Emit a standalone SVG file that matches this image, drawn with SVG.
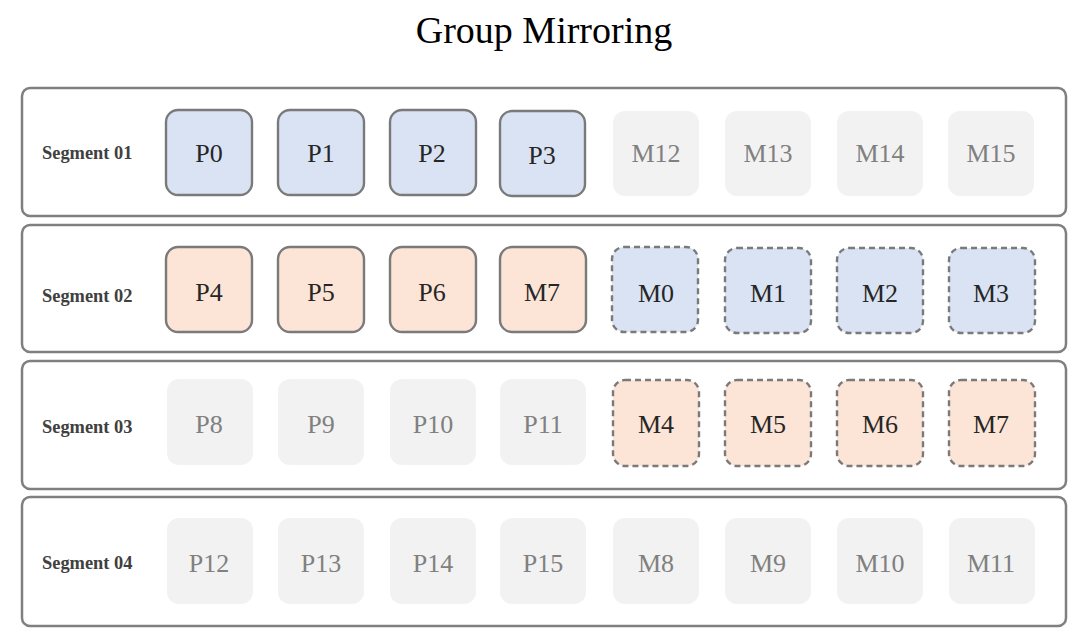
<svg xmlns="http://www.w3.org/2000/svg" width="1080" height="641" viewBox="0 0 1080 641">
<style>
.seg{fill:#fff;stroke:#7f7f7f;stroke-width:2.5}
.sl{font-family:"Liberation Serif",serif;font-weight:bold;font-size:18.4px;fill:#404040;dominant-baseline:central}
.n{stroke:#7a7a7a;stroke-width:2.4}
.d{stroke-dasharray:6 4}
.b{fill:#dae3f3}
.o{fill:#fce4d6}
.f{fill:#f2f2f2;stroke:none}
.t{font-family:"Liberation Serif",serif;font-size:26px;fill:#262626;text-anchor:middle;dominant-baseline:central}
.ft{fill:#808080}
</style>
<rect width="1080" height="641" fill="#fff"/>
<text x="544" y="30" font-family="Liberation Serif,serif" font-size="38" text-anchor="middle" dominant-baseline="central" fill="#000">Group Mirroring</text>
<g id="seg1"><rect class="seg" x="22" y="88" width="1044" height="128" rx="8"/><text class="sl" x="42" y="153">Segment 01</text></g>
<g id="seg2"><rect class="seg" x="22" y="225" width="1044" height="127" rx="8"/><text class="sl" x="42" y="296">Segment 02</text></g>
<g id="seg3"><rect class="seg" x="22" y="361" width="1044" height="128" rx="8"/><text class="sl" x="42" y="427">Segment 03</text></g>
<g id="seg4"><rect class="seg" x="22" y="497" width="1044" height="129" rx="8"/><text class="sl" x="42" y="563">Segment 04</text></g>
<g id="P0"><rect class="n b" x="166" y="110" width="86" height="85" rx="12"/><text class="t" x="209" y="153">P0</text></g>
<g id="P1"><rect class="n b" x="278" y="110" width="86" height="85" rx="12"/><text class="t" x="321" y="153">P1</text></g>
<g id="P2"><rect class="n b" x="390" y="110" width="86" height="85" rx="12"/><text class="t" x="432" y="153">P2</text></g>
<g id="P3"><rect class="n b" x="500" y="111" width="85" height="85" rx="12"/><text class="t" x="542" y="155">P3</text></g>
<g id="M12"><rect class="f" x="613" y="111" width="86" height="85" rx="12"/><text class="t ft" x="656" y="153">M12</text></g>
<g id="M13"><rect class="f" x="725" y="111" width="86" height="85" rx="12"/><text class="t ft" x="768" y="153">M13</text></g>
<g id="M14"><rect class="f" x="837" y="111" width="86" height="85" rx="12"/><text class="t ft" x="880" y="153">M14</text></g>
<g id="M15"><rect class="f" x="948" y="111" width="86" height="85" rx="12"/><text class="t ft" x="991" y="153">M15</text></g>
<g id="P4"><rect class="n o" x="166" y="247" width="86" height="85" rx="12"/><text class="t" x="209" y="292">P4</text></g>
<g id="P5"><rect class="n o" x="278" y="247" width="86" height="85" rx="12"/><text class="t" x="321" y="292">P5</text></g>
<g id="P6"><rect class="n o" x="390" y="247" width="86" height="85" rx="12"/><text class="t" x="432" y="292">P6</text></g>
<g id="M7a"><rect class="n o" x="500" y="247" width="86" height="85" rx="12"/><text class="t" x="542" y="292">M7</text></g>
<g id="M0"><rect class="n b d" x="612" y="247" width="86" height="85" rx="12"/><text class="t" x="656" y="293">M0</text></g>
<g id="M1"><rect class="n b d" x="725" y="248" width="86" height="85" rx="12"/><text class="t" x="768" y="293">M1</text></g>
<g id="M2"><rect class="n b d" x="837" y="248" width="86" height="85" rx="12"/><text class="t" x="880" y="293">M2</text></g>
<g id="M3"><rect class="n b d" x="949" y="248" width="86" height="85" rx="12"/><text class="t" x="991" y="293">M3</text></g>
<g id="P8"><rect class="f" x="167" y="379" width="86" height="86" rx="12"/><text class="t ft" x="209" y="424">P8</text></g>
<g id="P9"><rect class="f" x="278" y="379" width="86" height="86" rx="12"/><text class="t ft" x="321" y="424">P9</text></g>
<g id="P10"><rect class="f" x="390" y="379" width="86" height="86" rx="12"/><text class="t ft" x="433" y="424">P10</text></g>
<g id="P11"><rect class="f" x="500" y="379" width="86" height="86" rx="12"/><text class="t ft" x="543" y="424">P11</text></g>
<g id="M4"><rect class="n o d" x="613" y="380" width="86" height="86" rx="12"/><text class="t" x="656" y="424">M4</text></g>
<g id="M5"><rect class="n o d" x="725" y="380" width="86" height="86" rx="12"/><text class="t" x="768" y="424">M5</text></g>
<g id="M6"><rect class="n o d" x="837" y="380" width="86" height="86" rx="12"/><text class="t" x="880" y="424">M6</text></g>
<g id="M7"><rect class="n o d" x="949" y="380" width="86" height="86" rx="12"/><text class="t" x="991" y="424">M7</text></g>
<g id="P12"><rect class="f" x="167" y="518" width="86" height="86" rx="12"/><text class="t ft" x="209" y="563">P12</text></g>
<g id="P13"><rect class="f" x="278" y="518" width="86" height="86" rx="12"/><text class="t ft" x="321" y="563">P13</text></g>
<g id="P14"><rect class="f" x="390" y="518" width="86" height="86" rx="12"/><text class="t ft" x="433" y="563">P14</text></g>
<g id="P15"><rect class="f" x="500" y="518" width="86" height="86" rx="12"/><text class="t ft" x="543" y="563">P15</text></g>
<g id="M8"><rect class="f" x="613" y="518" width="86" height="86" rx="12"/><text class="t ft" x="656" y="563">M8</text></g>
<g id="M9"><rect class="f" x="725" y="518" width="86" height="86" rx="12"/><text class="t ft" x="768" y="563">M9</text></g>
<g id="M10"><rect class="f" x="837" y="518" width="86" height="86" rx="12"/><text class="t ft" x="880" y="563">M10</text></g>
<g id="M11"><rect class="f" x="949" y="518" width="86" height="86" rx="12"/><text class="t ft" x="991" y="563">M11</text></g>
<g id="connectors"/>
</svg>
